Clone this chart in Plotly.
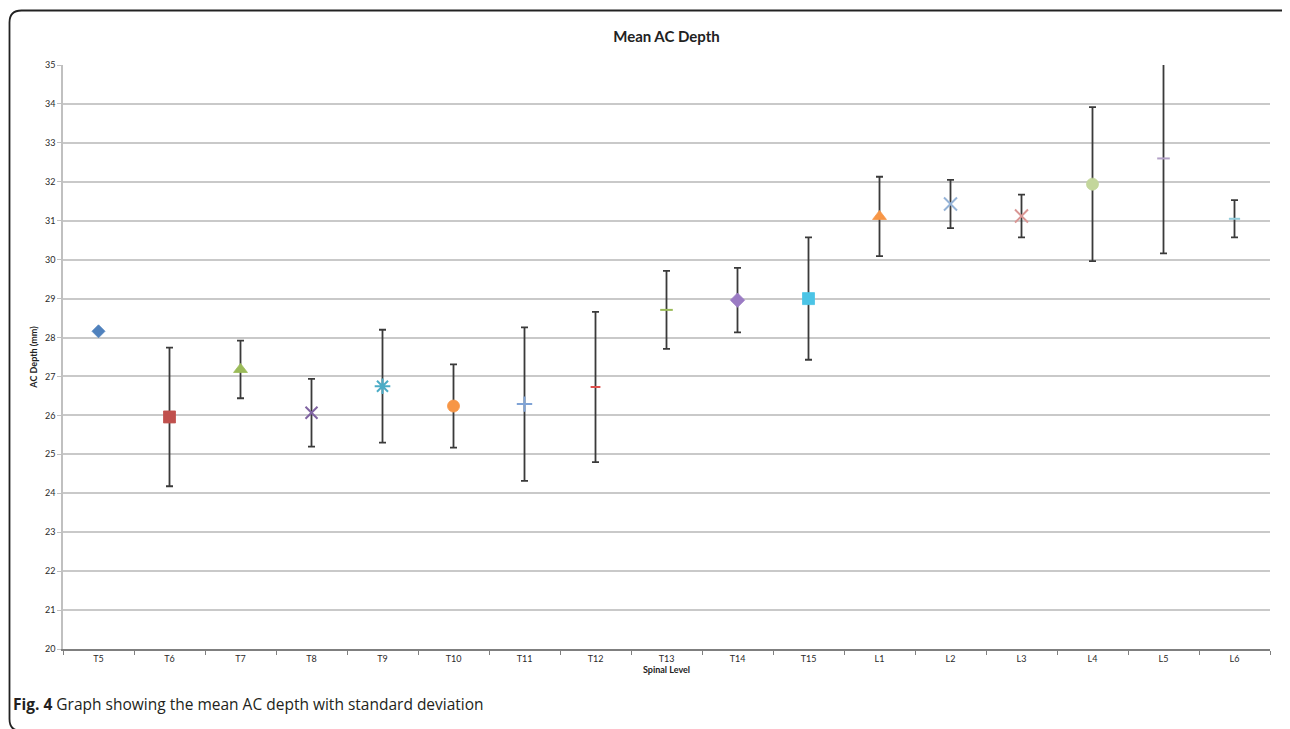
import plotly.graph_objects as go

levels = ["T5", "T6", "T7", "T8", "T9", "T10", "T11", "T12", "T13", "T14", "T15",
          "L1", "L2", "L3", "L4", "L5", "L6"]
mean_depth = [28.16, 25.96, 27.18, 26.07, 26.75, 26.24, 26.29, 26.73, 28.71, 28.96, 29.00,
              31.11, 31.43, 31.12, 31.94, 32.60, 31.05]
sd_depth = [0.0, 1.78, 0.74, 0.87, 1.45, 1.07, 1.97, 1.93, 1.00, 0.83, 1.57,
            1.02, 0.62, 0.55, 1.98, 2.44, 0.48]
y_ticks = list(range(20, 36))

# marker styles (Excel-like defaults)
m_colors = ["#4F81BD", "#C0504D", "#9BBB59", "#8064A2", "#4BACC6", "#F79646", "#7FA3D6",
            "#E0504D", "#9BBB59", "#9B7BC4", "#4BC4E6", "#F79646", "#95B3D7", "#D99694",
            "#C3D69B", "#B3A2C7", "#92CDDC"]
m_symbols = ["diamond", "square", "triangle-up", "x-thin-open", "asterisk-open", "circle",
             "cross-thin-open", "line-ew-open", "line-ew-open", "diamond", "square",
             "triangle-up", "x-thin-open", "x-thin-open", "circle", "line-ew-open", "line-ew-open"]
m_sizes = [10, 12, 12, 12, 13, 12, 11, 7, 9, 11, 12, 12, 13, 13, 12, 9, 8]

fig = go.Figure()
for i, lvl in enumerate(levels):
    open_sym = m_symbols[i].endswith("-open")
    fig.add_trace(go.Scatter(
        x=[lvl], y=[mean_depth[i]], mode="markers", showlegend=False,
        error_y=dict(type="data", array=[sd_depth[i]], visible=sd_depth[i] > 0,
                     color="#3a3a3a", thickness=1.8, width=3.5),
        marker=dict(symbol=m_symbols[i], size=m_sizes[i], color=m_colors[i],
                    line=dict(color=m_colors[i], width=2 if open_sym else 0.8)),
        cliponaxis=True,
    ))

# outer rounded frame (paper coords, computed from screen pixels)
W, H = 1207.0, 584.0
def px(xp):
    return (xp - 63) / W
def py(yp):
    return (649 - yp) / H
x0, x1, y0, y1, r = 9.5, 1294, 10.5, 731, 12
path = (f"M {px(x0 + r)},{py(y0)} L {px(x1 - r)},{py(y0)} "
        f"Q {px(x1)},{py(y0)} {px(x1)},{py(y0 + r)} L {px(x1)},{py(y1 - r)} "
        f"Q {px(x1)},{py(y1)} {px(x1 - r)},{py(y1)} L {px(x0 + r)},{py(y1)} "
        f"Q {px(x0)},{py(y1)} {px(x0)},{py(y1 - r)} L {px(x0)},{py(y0 + r)} "
        f"Q {px(x0)},{py(y0)} {px(x0 + r)},{py(y0)} Z")
fig.add_shape(type="path", path=path, xref="paper", yref="paper",
              line=dict(color="#222222", width=1.8), layer="below")

fig.update_layout(
    width=1290, height=729,
    margin=dict(l=55, r=28, t=57, b=88),
    paper_bgcolor="white", plot_bgcolor="white",
    font=dict(family="Lato, 'Open Sans', sans-serif", color="#333333"),
    title=dict(text="<b>Mean AC Depth</b>", x=0.5, xref="paper", y=1 - 29 / 729,
               yanchor="middle", font=dict(size=15, color="#222222")),
    xaxis=dict(categoryorder="array", categoryarray=levels, range=[-0.5, 16.5],
               showgrid=False, showline=True, linecolor="#7f7f7f", linewidth=1.5,
               ticks="outside", tickson="boundaries", ticklen=4, tickcolor="#7f7f7f",
               tickfont=dict(size=9, color="#2a2a2a"), zeroline=False,
               title=dict(text="<b>Spinal Level</b>", font=dict(size=9, color="#222222"),
                          standoff=4)),
    yaxis=dict(range=[20, 35], tickvals=y_ticks, showgrid=True, gridcolor="#c9c9c9",
               gridwidth=1.5, showline=True, linecolor="#c0c0c0", linewidth=1.5,
               ticks="outside", ticklen=4, tickcolor="#c0c0c0", zeroline=False,
               tickfont=dict(size=9, color="#2a2a2a"),
               title=dict(text="<b>AC Depth (mm)</b>", font=dict(size=9, color="#222222"),
                          standoff=6)),
)

fig.add_annotation(
    text="<b>Fig. 4</b> Graph showing the mean AC depth with standard deviation",
    xref="paper", yref="paper", x=px(11), y=py(704), xanchor="left", yanchor="middle",
    showarrow=False, font=dict(family="'Open Sans', 'Noto Sans', sans-serif", size=15.5,
                               color="#231f20"))

fig.write_html("out.html")
